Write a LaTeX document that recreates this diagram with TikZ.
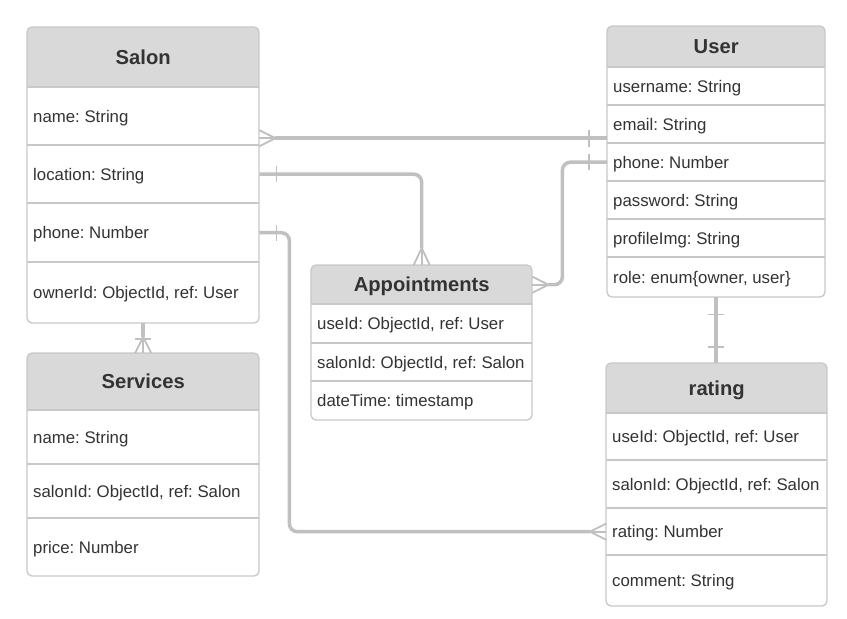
\documentclass[tikz,border=0pt]{standalone}
\usepackage{fontspec}
\setmainfont{Liberation Sans}
\usetikzlibrary{calc}
\definecolor{bdc}{HTML}{C8C8C8}
\definecolor{hdc}{HTML}{D9D9D9}
\definecolor{lnc}{HTML}{C0C0C0}
\definecolor{txc}{HTML}{333333}
\frenchspacing
\tikzset{
 conn/.style={draw=lnc, line width=3.5pt, rounded corners=8pt},
 foot/.style={draw=lnc, line width=1.8pt},
 sep/.style={draw=bdc, line width=1.2pt},
 frame/.style={draw=bdc, line width=1.3pt, rounded corners=5pt},
 headtext/.style={text=txc, font=\fontsize{20.2}{24}\selectfont\bfseries\frenchspacing, text height=14.5pt, text depth=0pt},
 rowtext/.style={text=txc, font=\fontsize{16.8}{20}\selectfont\frenchspacing, text height=12pt, text depth=0pt},
}
\newcommand\erhead[6]{%
 \pgfmathsetmacro\erw{#3-#2}\pgfmathsetmacro\erh{#5-#4}%
 \node[headtext, anchor=north west, inner sep=0pt, minimum width=\erw pt, minimum height=\erh pt] (#1) at (#2,#4) {#6};}
\newcommand\errow[6]{%
 \pgfmathsetmacro\erw{#3-#2}\pgfmathsetmacro\erh{#5-#4}\pgfmathsetmacro\ert{#3-#2-12}%
 \node[rowtext, anchor=north west, inner xsep=6pt, inner ysep=0pt, minimum width=\erw pt, minimum height=\erh pt] (#1) at (#2,#4) {\makebox[\ert pt][l]{#6}};
 \draw[sep] (#2,#4) -- (#3,#4);}
\newcommand\erbg[5]{%
 \begin{scope}\clip[rounded corners=5pt] (#1,#3) rectangle (#2,#5); \fill[white] (#1,#3) rectangle (#2,#5); \fill[hdc] (#1,#3) rectangle (#2,#4); \end{scope}}
\newcommand\erframe[4]{\draw[frame] (#1,#3) rectangle (#2,#4);}
\newcommand\crow[5]{%
 \draw[foot] ($(#1)+(#4,#5)$) -- ($(#1)+(#2,#3)$) -- ($(#1)-(#4,#5)$);
 \draw[foot] (#1) -- ($(#1)+(#2,#3)$);}
\newcommand\erbar[5]{%
 \draw[foot] ($(#1)+(#2,#3)+(#4,#5)$) -- ($(#1)+(#2,#3)-(#4,#5)$);}
\begin{document}
\begin{tikzpicture}[x=1pt,y=-1pt]
\fill[white] (0,0) rectangle (847,619);
\path[use as bounding box] (0,0) rectangle (847,619);
% Salon
\erbg{27}{259}{27}{87}{323}
\erhead{salon}{27}{259}{27}{87}{Salon}
\errow{salon-name}{27}{259}{87}{145}{name: String}
\errow{salon-location}{27}{259}{145}{203}{location: String}
\errow{salon-phone}{27}{259}{203}{262}{phone: Number}
\errow{salon-owner}{27}{259}{262}{323}{ownerId: ObjectId, ref: User}
\erframe{27}{259}{27}{323}
% Services
\erbg{27}{259}{353}{410}{576}
\erhead{services}{27}{259}{353}{410}{Services}
\errow{services-name}{27}{259}{410}{464}{name: String}
\errow{services-salon}{27}{259}{464}{518}{salonId: ObjectId, ref: Salon}
\errow{services-price}{27}{259}{518}{576}{price: Number}
\erframe{27}{259}{353}{576}
% Appointments
\erbg{311}{532}{265}{304}{420}
\erhead{appt}{311}{532}{265}{304}{Appointments}
\errow{appt-user}{311}{532}{304}{343}{useId: ObjectId, ref: User}
\errow{appt-salon}{311}{532}{343}{381}{salonId: ObjectId, ref: Salon}
\errow{appt-time}{311}{532}{381}{420}{dateTime: timestamp}
\erframe{311}{532}{265}{420}
% User
\erbg{607}{825}{26}{67}{297}
\erhead{user}{607}{825}{26}{67}{User}
\errow{user-username}{607}{825}{67}{105}{username: String}
\errow{user-email}{607}{825}{105}{143}{email: String}
\errow{user-phone}{607}{825}{143}{181}{phone: Number}
\errow{user-password}{607}{825}{181}{219}{password: String}
\errow{user-img}{607}{825}{219}{257}{profileImg: String}
\errow{user-role}{607}{825}{257}{297}{role: enum\{owner, user\}}
\erframe{607}{825}{26}{297}
% rating
\erbg{606}{827}{363}{413}{606}
\erhead{rating}{606}{827}{363}{413}{rating}
\errow{rating-user}{606}{827}{413}{460}{useId: ObjectId, ref: User}
\errow{rating-salon}{606}{827}{460}{508}{salonId: ObjectId, ref: Salon}
\errow{rating-rating}{606}{827}{508}{555}{rating: Number}
\errow{rating-comment}{606}{827}{555}{606}{comment: String}
\erframe{606}{827}{363}{606}
% connector 1: Salon name -> User email
\coordinate (c1a) at ($(salon-name.east)+(0,22)$);
\coordinate (c1b) at ($(user-email.west)+(0,14)$);
\draw[conn] ($(c1a)+(16,0)$) -- (c1b);
\crow{c1a}{16}{0}{0}{8}
\erbar{c1b}{-18}{0}{0}{8.5}
% connector 2: Salon location -> Appointments
\draw[conn] (salon-location.east) -| ($(appt.north)+(0,-17)$);
\erbar{salon-location.east}{17}{0}{0}{8}
\crow{appt.north}{0}{-17}{8}{0}
% connector 3: Salon phone -> rating
\draw[conn] (salon-phone.east) -- ++(30,0) |- ($(rating-rating.west)+(-16,0)$);
\erbar{salon-phone.east}{17}{0}{0}{8}
\crow{rating-rating.west}{-16}{0}{0}{8}
% connector 4: Appointments -> User phone
\draw[conn] ($(appt.east)+(16,0)$) -- ++(14,0) |- (user-phone.west);
\crow{appt.east}{16}{0}{0}{8}
\erbar{user-phone.west}{-18}{0}{0}{8}
% connector 5: Salon -> Services
\draw[conn] (salon-owner.south) -- ($(services.north)+(0,-16)$);
\erbar{services.north}{0}{-14}{8}{0}
\crow{services.north}{0}{-16}{8}{0}
% connector 6: User -> rating
\coordinate (c6) at (user-role.south |- rating.north);
\draw[conn] (user-role.south) -- (c6);
\erbar{user-role.south}{0}{17}{8}{0}
\erbar{c6}{0}{-16}{8}{0}
\end{tikzpicture}
\end{document}
